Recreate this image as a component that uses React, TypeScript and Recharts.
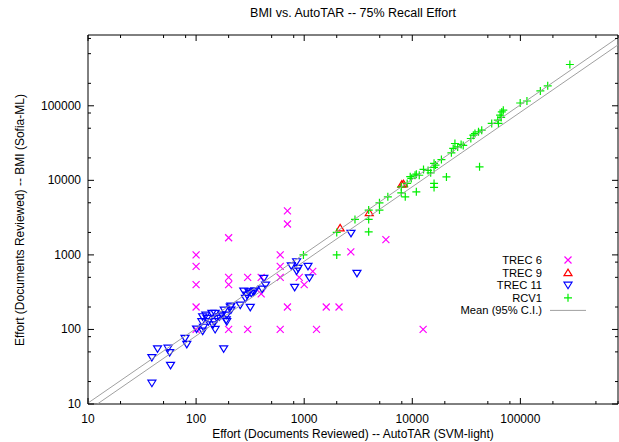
import React from "react";
import { ScatterChart, Scatter, XAxis, YAxis, ReferenceArea, Legend } from "recharts";

// effort pairs: [AutoTAR (SVM-light), BMI (Sofia-ML)]
const trec6: [number, number][] = [
  [100, 1000], [100, 700], [100, 400], [100, 200], [100, 100],
  [200, 1700], [200, 500], [200, 400], [200, 100],
  [300, 500], [300, 100], [400, 500], [400, 300],
  [600, 1000], [600, 700], [600, 500], [600, 100],
  [700, 3900], [700, 2600], [700, 200],
  [900, 500], [1000, 400], [1200, 600], [1300, 100], [1600, 200],
  [2100, 200], [2700, 1100], [5700, 1600], [12600, 100],
];

const trec9: [number, number][] = [
  [2150, 2300], [4000, 3700], [8000, 8900], [8300, 9000],
];

const trec11: [number, number][] = [
  [39, 19], [39, 42], [44, 55], [55, 56], [57, 49], [58, 33], [79, 76], [82, 63],
  [101, 101], [115, 95], [113, 127], [115, 148], [126, 141], [130, 127], [140, 164],
  [143, 115], [150, 100], [150, 164], [156, 141], [165, 148], [173, 156], [182, 182],
  [190, 134], [192, 156], [180, 55], [207, 200], [210, 182], [256, 212], [276, 327],
  [286, 261], [296, 289], [307, 320], [324, 305], [339, 320], [348, 330], [317, 198],
  [408, 348], [423, 484], [439, 394], [760, 714], [851, 809], [851, 607], [877, 659],
  [816, 367], [1084, 700], [1118, 493], [2710, 1940], [3076, 565], [123, 156],
  [147, 127], [192, 127], [117, 107], [210, 205],
];

const rcv1: [number, number][] = [
  [984, 1000], [2000, 2000], [2000, 1000], [2950, 2990], [3950, 3990], [3950, 2990],
  [3950, 2040], [4970, 4990], [4970, 3990], [5940, 6010], [7910, 8190], [7910, 6800],
  [8610, 6010], [8970, 9090], [9570, 11200], [9790, 10600], [10600, 11700], [10900, 7010],
  [10900, 12100], [11600, 11700], [12700, 14000], [14000, 13600], [14800, 12600],
  [15900, 16900], [15900, 14900], [15900, 9090], [15900, 8040], [16400, 16000],
  [18600, 19000], [20700, 11100], [23000, 23400], [23900, 26800], [24800, 31200],
  [26300, 28100], [28300, 30300], [29600, 29400], [34800, 36400], [36700, 40300],
  [38000, 42500], [41000, 44700], [43900, 47100], [41900, 15200], [54300, 57900],
  [61800, 64100], [62700, 57900], [64900, 74800], [66400, 69700], [67300, 82800],
  [69500, 87300], [99600, 109000], [115000, 116000], [153000, 158000],
  [179000, 185000], [287000, 358000],
];

// mean ratio, 95% confidence bounds (end points)
const meanUpper: [number, number][] = [[10, 10.3], [800000, 824000]];
const meanLower: [number, number][] = [[12.2, 10], [800000, 656000]];

const majorTicks = [10, 100, 1000, 10000, 100000];
const xTicks = [
  10, 20, 50, 80, 100, 200, 500, 800, 1000, 2000, 5000, 8000,
  10000, 20000, 50000, 80000, 100000, 200000, 500000, 800000,
];
const yTicks = [
  10, 20, 50, 80, 100, 200, 500, 800, 1000, 2000, 5000, 8000,
  10000, 20000, 50000, 80000, 100000, 200000, 500000, 800000,
];

const FONT = "'Liberation Sans', Arial, Helvetica, sans-serif";
const PLOT = { left: 88, right: 618, top: 35, bottom: 404 };

const toPts = (a: [number, number][]) => a.map(([x, y]) => ({ x, y }));

const XTick = (props: any) => {
  const { x, payload } = props;
  const major = majorTicks.includes(payload.value);
  const len = major ? 6 : 3;
  return (
    <g>
      <line x1={x} x2={x} y1={PLOT.bottom} y2={PLOT.bottom - len} stroke="#000" />
      <line x1={x} x2={x} y1={PLOT.top} y2={PLOT.top + len} stroke="#000" />
      {major && (
        <text x={x} y={423} textAnchor="middle" fontSize={12} fontFamily={FONT} fill="#000">
          {payload.value}
        </text>
      )}
    </g>
  );
};

const YTick = (props: any) => {
  const { y, payload } = props;
  const major = majorTicks.includes(payload.value);
  const len = major ? 6 : 3;
  return (
    <g>
      <line x1={PLOT.left} x2={PLOT.left + len} y1={y} y2={y} stroke="#000" />
      <line x1={PLOT.right} x2={PLOT.right - len} y1={y} y2={y} stroke="#000" />
      {major && (
        <text x={81} y={y + 4} textAnchor="end" fontSize={12} fontFamily={FONT} fill="#000">
          {payload.value}
        </text>
      )}
    </g>
  );
};

const cross = (cx: number, cy: number, c: string) => (
  <path d={`M${cx - 3.5},${cy - 3.5}L${cx + 3.5},${cy + 3.5}M${cx - 3.5},${cy + 3.5}L${cx + 3.5},${cy - 3.5}`} stroke={c} strokeWidth={1.2} fill="none" />
);
const triUp = (cx: number, cy: number, c: string) => (
  <path d={`M${cx},${cy - 3.5}L${cx + 4},${cy + 3}L${cx - 4},${cy + 3}Z`} stroke={c} strokeWidth={1.2} fill="none" />
);
const triDown = (cx: number, cy: number, c: string) => (
  <path d={`M${cx},${cy + 3.5}L${cx + 4},${cy - 3}L${cx - 4},${cy - 3}Z`} stroke={c} strokeWidth={1.2} fill="none" />
);
const plus = (cx: number, cy: number, c: string) => (
  <path d={`M${cx - 4},${cy}L${cx + 4},${cy}M${cx},${cy - 4}L${cx},${cy + 4}`} stroke={c} strokeWidth={1.2} fill="none" />
);

const legendRows = [
  { label: "TREC 6", mark: cross, color: "#ff00ff" },
  { label: "TREC 9", mark: triUp, color: "#ff0000" },
  { label: "TREC 11", mark: triDown, color: "#0000ff" },
  { label: "RCV1", mark: plus, color: "#00ee00" },
];

const ROW = 12.6;

const LegendBox = () => (
  <svg width={160} height={66} style={{ display: "block" }}>
    {legendRows.map((r, i) => (
      <g key={r.label}>
        <text x={97} y={6 + i * ROW + 4} textAnchor="end" fontSize={11.2} fontFamily={FONT} fill="#000">
          {r.label}
        </text>
        {r.mark(123, 6 + i * ROW, r.color)}
      </g>
    ))}
    <text x={97} y={6 + 4 * ROW + 4} textAnchor="end" fontSize={11.2} fontFamily={FONT} fill="#000">
      Mean (95% C.I.)
    </text>
    <line x1={105} x2={141} y1={6 + 4 * ROW} y2={6 + 4 * ROW} stroke="#a0a0a0" strokeWidth={1} />
  </svg>
);

export default function App() {
  return (
    <div style={{ position: "absolute", left: 0, top: 0, width: 619, height: 442, background: "#fff" }}>
      <ScatterChart width={619} height={442} margin={{ top: 35, right: 1, bottom: 0, left: 0 }}>
        <XAxis
          type="number"
          dataKey="x"
          scale="log"
          domain={[10, 800000]}
          allowDataOverflow
          ticks={xTicks}
          interval={0}
          tick={<XTick />}
          tickLine={false}
          axisLine={false}
          height={38}
        />
        <YAxis
          type="number"
          dataKey="y"
          scale="log"
          domain={[10, 890000]}
          allowDataOverflow
          ticks={yTicks}
          interval={0}
          tick={<YTick />}
          tickLine={false}
          axisLine={false}
          width={88}
        />
        <ReferenceArea x1={10} x2={800000} y1={10} y2={890000} fill="none" stroke="#000" strokeWidth={1} />
        <Scatter data={toPts(trec6)} isAnimationActive={false} shape={(p: any) => cross(p.cx, p.cy, "#ff00ff")} />
        <Scatter data={toPts(trec9)} isAnimationActive={false} shape={(p: any) => triUp(p.cx, p.cy, "#ff0000")} />
        <Scatter data={toPts(trec11)} isAnimationActive={false} shape={(p: any) => triDown(p.cx, p.cy, "#0000ff")} />
        <Scatter data={toPts(rcv1)} isAnimationActive={false} shape={(p: any) => plus(p.cx, p.cy, "#00ee00")} />
        <Scatter data={toPts(meanUpper)} isAnimationActive={false} line={{ stroke: "#a0a0a0", strokeWidth: 1 }} shape={() => <g />} />
        <Scatter data={toPts(meanLower)} isAnimationActive={false} line={{ stroke: "#a0a0a0", strokeWidth: 1 }} shape={() => <g />} />
        <Legend
          layout="vertical"
          align="center"
          verticalAlign="middle"
          wrapperStyle={{ left: 445, top: 254, width: 160, height: 66 }}
          content={() => <LegendBox />}
        />
      </ScatterChart>
      <div style={{ position: "absolute", left: 88, width: 530, top: 6, textAlign: "center", fontFamily: FONT, fontSize: 12.5 }}>
        BMI vs. AutoTAR -- 75% Recall Effort
      </div>
      <div style={{ position: "absolute", left: 88, width: 530, top: 427, textAlign: "center", fontFamily: FONT, fontSize: 12 }}>
        Effort (Documents Reviewed) -- AutoTAR (SVM-light)
      </div>
      <div
        style={{
          position: "absolute",
          left: 20,
          top: 220,
          transform: "translate(-50%, -50%) rotate(-90deg)",
          whiteSpace: "nowrap",
          fontFamily: FONT,
          fontSize: 12,
        }}
      >
        Effort (Documents Reviewed) -- BMI (Sofia-ML)
      </div>
    </div>
  );
}
